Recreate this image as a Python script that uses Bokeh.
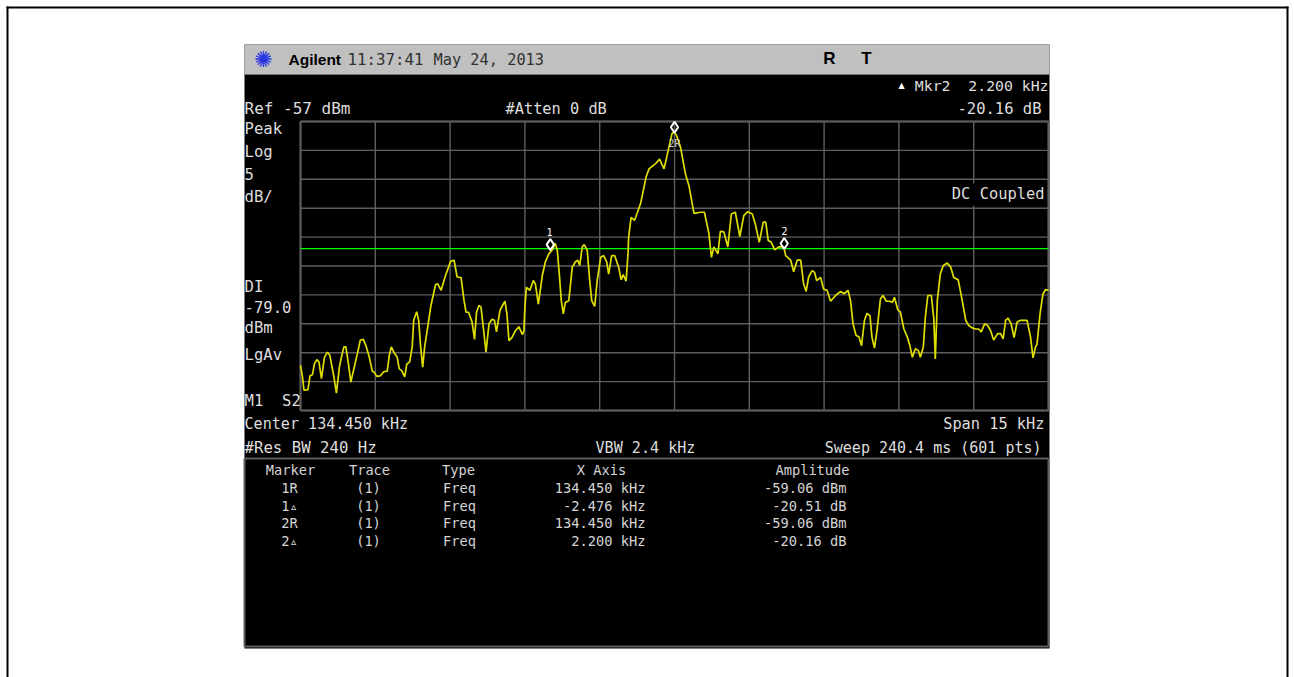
from bokeh.plotting import figure
from bokeh.models import Range1d
from bokeh.core.properties import value
from bokeh.embed import file_html
from bokeh.resources import INLINE

# ---------- chart data ----------
center_khz = 134.450
span_khz = 15.0
ref_dbm = -57.0
db_per_div = 5.0
display_line_dbm = -79.0

freq_khz = [
126.95,126.99,127.02,127.10,127.14,127.19,127.23,127.28,127.32,127.37,127.43,127.49,127.54,127.62,127.67,127.73,127.77,127.82,127.86,127.91,
127.96,128.02,128.09,128.15,128.21,128.27,128.33,128.39,128.43,128.48,128.55,128.62,128.69,128.73,128.77,128.84,128.89,128.93,128.98,129.04,
129.08,129.14,129.19,129.22,129.28,129.32,129.36,129.40,129.44,129.50,129.56,129.61,129.66,129.70,129.77,129.86,129.96,130.03,130.09,130.17,
130.23,130.27,130.32,130.39,130.44,130.48,130.53,130.57,130.63,130.67,130.73,130.79,130.84,130.88,130.95,130.99,131.05,131.09,131.13,131.19,
131.26,131.33,131.40,131.43,131.45,131.48,131.55,131.62,131.66,131.72,131.80,131.86,131.93,132.00,132.06,132.10,132.14,132.18,132.22,132.26,
132.33,132.40,132.46,132.51,132.55,132.60,132.64,132.70,132.75,132.79,132.85,132.90,132.97,133.03,133.09,133.13,133.19,133.25,133.33,133.38,
133.42,133.48,133.52,133.53,133.58,133.65,133.77,133.88,133.94,134.07,134.15,134.24,134.34,134.40,134.44,134.49,134.57,134.67,134.74,134.84,
134.97,135.05,135.14,135.19,135.24,135.32,135.37,135.44,135.52,135.59,135.67,135.76,135.84,135.92,136.01,136.07,136.15,136.23,136.28,136.33,
136.39,136.46,136.54,136.64,136.68,136.78,136.84,136.91,136.98,137.04,137.09,137.14,137.21,137.26,137.30,137.38,137.44,137.51,137.58,137.68,
137.78,137.85,137.93,137.98,138.03,138.09,138.15,138.20,138.26,138.31,138.37,138.41,138.46,138.51,138.58,138.63,138.70,138.77,138.82,138.86,
138.93,138.98,139.05,139.12,139.17,139.22,139.28,139.34,139.38,139.44,139.48,139.53,139.60,139.65,139.68,139.72,139.78,139.84,139.92,139.99,
140.05,140.14,140.22,140.29,140.35,140.42,140.49,140.55,140.60,140.67,140.73,140.79,140.85,140.93,140.99,141.04,141.09,141.14,141.20,141.26,
141.32,141.39,141.52,141.59,141.64,141.69,141.72,141.78,141.84,141.89,141.95]

level_dbm = [
-99.2,-101.2,-103.5,-103.4,-101.0,-100.8,-98.9,-98.2,-98.6,-101.5,-97.8,-96.9,-97.5,-101.2,-104.0,-99.5,-97.8,-96.0,-96.0,-98.9,
-102.1,-99.8,-97.2,-94.8,-94.7,-96.0,-97.8,-100.2,-100.4,-101.1,-101.0,-100.3,-100.2,-97.5,-96.0,-97.2,-97.8,-99.8,-100.1,-101.2,
-99.0,-98.6,-96.0,-91.4,-89.9,-91.4,-96.0,-99.5,-96.0,-92.6,-89.1,-87.1,-85.2,-85.1,-86.2,-83.6,-81.2,-81.0,-83.9,-84.0,
-88.0,-90.0,-90.0,-91.7,-94.7,-90.0,-88.8,-89.1,-93.7,-96.9,-92.0,-91.2,-91.4,-93.4,-89.7,-89.0,-88.1,-90.3,-94.9,-94.4,
-93.2,-92.5,-93.9,-93.2,-89.1,-85.7,-86.2,-84.5,-85.1,-88.6,-83.6,-81.3,-79.9,-79.2,-78.1,-79.3,-83.4,-88.0,-90.3,-88.3,
-88.0,-82.2,-81.3,-81.0,-81.9,-78.7,-78.3,-79.3,-84.5,-88.0,-89.0,-84.5,-80.5,-80.2,-81.3,-83.4,-80.2,-80.2,-82.2,-84.4,
-83.5,-84.6,-79.6,-77.0,-73.6,-74.1,-71.2,-66.6,-65.2,-64.3,-63.5,-65.2,-61.4,-59.1,-58.8,-59.4,-61.4,-66.1,-68.1,-72.9,
-72.7,-72.7,-76.4,-80.5,-78.7,-79.9,-76.0,-76.1,-78.7,-73.0,-72.7,-76.9,-73.3,-72.6,-73.0,-74.7,-77.9,-74.4,-74.4,-77.6,
-77.9,-79.2,-78.7,-78.7,-80.2,-81.0,-83.0,-81.0,-81.0,-85.1,-86.4,-83.9,-82.8,-83.1,-84.5,-84.0,-86.0,-86.2,-88.1,-87.1,
-86.4,-86.8,-86.2,-88.0,-92.0,-94.0,-94.3,-95.8,-91.4,-90.2,-90.6,-94.3,-96.2,-93.2,-87.7,-87.1,-88.1,-88.1,-88.3,-87.4,
-89.6,-90.0,-92.9,-94.3,-95.8,-97.8,-96.3,-96.6,-97.8,-96.0,-90.9,-87.1,-87.1,-91.1,-98.1,-88.0,-83.4,-81.9,-81.5,-82.2,
-84.0,-84.4,-88.0,-91.4,-92.3,-92.7,-92.9,-92.9,-93.4,-92.0,-92.3,-93.2,-94.8,-93.7,-93.7,-94.6,-91.4,-91.0,-92.0,-94.4,
-91.7,-91.4,-91.4,-94.3,-97.9,-96.0,-95.5,-90.3,-86.8,-86.1,-86.2]

marker_freq = [131.96, 134.45, 136.65]
marker_level = [-78.3, -58.0, -78.1]

table_headers = ["Marker", "Trace", "Type", "X Axis", "Amplitude"]
table_markers = ["1R", "1\u25b5", "2R", "2\u25b5"]
table_traces = ["(1)", "(1)", "(1)", "(1)"]
table_types = ["Freq", "Freq", "Freq", "Freq"]
table_x = ["134.450 kHz", "-2.476 kHz", "134.450 kHz", "2.200 kHz"]
table_amp = ["-59.06 dBm", "-20.51 dB", "-59.06 dBm", "-20.16 dB"]

# ---------- geometry ----------
W, H = 1294, 677
G_L, G_R, G_T, G_B = 300, 1048, 121, 410   # graticule on the page
FONT = value("DejaVu Sans Mono")
LIGHT = "#dedede"
GRID = "#5e5e5e"
NB = "\u00a0"

khz_per_px = span_khz / (G_R - G_L)
db_per_px = 10 * db_per_div / (G_B - G_T)
f_min = center_khz - span_khz / 2
x0 = f_min - G_L * khz_per_px
x1 = f_min + (W - G_L) * khz_per_px
y1 = ref_dbm + G_T * db_per_px
y0 = ref_dbm - (H - G_T) * db_per_px

p = figure(width=W, height=H, output_backend="svg", toolbar_location=None,
           x_range=Range1d(x0, x1), y_range=Range1d(y0, y1),
           x_axis_type=None, y_axis_type=None, min_border=0,
           background_fill_color="white", border_fill_color="white", outline_line_color=None)
p.grid.visible = False

# page-pixel layer for the instrument's chrome
p.extra_x_ranges["page"] = Range1d(0, W)
p.extra_y_ranges["page"] = Range1d(H, 0)
PG = dict(x_range_name="page", y_range_name="page")

# outer frame
p.segment([7, 6, 1287], [6, 7, 6], [7, 1288, 1287], [677, 7, 677], line_color="black", line_width=2, **PG)

# instrument screen, title bar
p.quad(left=[244], right=[1049], top=[44], bottom=[648], fill_color="black", line_color=None, **PG)
p.quad(left=[244], right=[1049], top=[44], bottom=[74], fill_color="#c0c0c0", line_color=None, **PG)
p.segment([244], [74], [1049], [74], line_color="#707070", line_width=1, **PG)

# Agilent spark
p.text([263], [59], text=["\u273a"], text_color="#2a35e0", text_font=value("DejaVu Sans"),
       text_font_size="22px", text_align="center", text_baseline="middle", **PG)

# graticule
x_ticks = [f_min + span_khz * i / 10 for i in range(11)]
y_ticks = [ref_dbm - db_per_div * i for i in range(11)]
f_max = f_min + span_khz
y_low = ref_dbm - 10 * db_per_div
p.segment(x_ticks, [y_low] * 11, x_ticks, [ref_dbm] * 11, line_color=GRID, line_width=1.4)
p.segment([f_min] * 11, y_ticks, [f_max] * 11, y_ticks, line_color=GRID, line_width=1.4)
p.segment([f_min, f_max, f_min, f_min], [y_low, y_low, ref_dbm, y_low],
          [f_min, f_max, f_max, f_max], [ref_dbm, ref_dbm, ref_dbm, y_low],
          line_color=GRID, line_width=2)

# panel under the graticule
p.segment([244, 244, 1048, 244], [458, 458, 458, 646], [1048, 244, 1048, 1048], [458, 646, 646, 646],
          line_color=GRID, line_width=2, **PG)

# black backing behind DC Coupled
p.quad(left=[948], right=[1046], top=[183], bottom=[205], fill_color="black", line_color=None, **PG)

# display line and trace
p.segment([f_min], [display_line_dbm], [f_max], [display_line_dbm], line_color="#00ff00", line_width=1.3)
p.line(freq_khz, level_dbm, line_color="#dede00", line_width=1.7)

# markers
p.scatter(marker_freq, marker_level, marker="diamond", size=11,
          fill_color=None, line_color="white", line_width=2)


def txt(x, y, s, size="15px", color=LIGHT, align="left", font=FONT, style="normal"):
    p.text([x], [y], text=[s], text_color=color, text_font=font, text_font_size=size,
           text_align=align, text_baseline="middle", text_font_style=style, **PG)


# title bar
txt(288, 59, "Agilent", "15.5px", "#000000", font=value("Liberation Sans"), style="bold")
txt(347, 59, "11:37:41", "15.8px", "#303030")
txt(433, 59, "May 24, 2013", "15.3px", "#303030")
txt(829, 58, "R", "17px", "#000000", "center", value("Liberation Sans"), "bold")
txt(866, 58, "T", "17px", "#000000", "center", value("Liberation Sans"), "bold")

# top read-outs
txt(901, 85, "\u25b2", "8px", "white", "center", value("DejaVu Sans"))
txt(1048, 85, "Mkr2" + NB + NB + "2.200 kHz", "14.8px", LIGHT, "right")
txt(1041, 108, "-20.16 dB", "15.5px", LIGHT, "right")
txt(244, 108, "Ref -57 dBm", "16px")
txt(505, 108, "#Atten 0 dB", "15.3px")

# left column
for yy, s in zip([128, 151, 173, 196, 286, 306, 327, 354, 400],
                 ["Peak", "Log", "5", "dB/", "DI", "-79.0", "dBm", "LgAv", "M1" + NB + NB + "S2"]):
    txt(244, yy, s, "15.6px")

txt(1044, 193, "DC Coupled", "15.4px", LIGHT, "right")
txt(244, 423, "Center 134.450 kHz", "15.1px")
txt(1044, 423, "Span 15 kHz", "15.3px", LIGHT, "right")
txt(244, 447, "#Res BW 240 Hz", "15.7px")
txt(595, 447, "VBW 2.4 kHz", "15.1px")
txt(1041, 447, "Sweep 240.4 ms (601 pts)", "15px", LIGHT, "right")

# marker flags
txt(549, 231, "1", "10px", "white", "center")
txt(784, 230, "2", "10px", "white", "center")
txt(674, 143, "2R", "10px", "#cfcfcf", "center")

# marker table
TS = "13.7px"
TC = "#d4d4d4"
for xx, s in zip([290, 369, 458, 601, 812], table_headers):
    txt(xx, 469, s, TS, TC, "center")
for yy, a, b, c, d, e in zip([487, 505, 522, 540], table_markers, table_traces, table_types, table_x, table_amp):
    txt(289, yy, a, TS, TC, "center")
    txt(368, yy, b, TS, TC, "center")
    txt(459, yy, c, TS, TC, "center")
    txt(645, yy, d, TS, TC, "right")
    txt(846, yy, e, TS, TC, "right")

open("out.html", "w").write(file_html(p, INLINE))
